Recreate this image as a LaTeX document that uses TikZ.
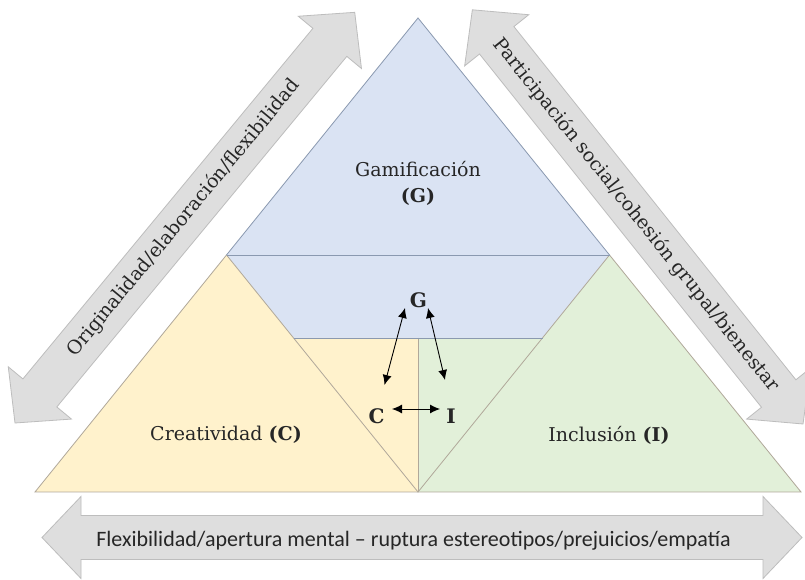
\documentclass[tikz,border=0pt]{standalone}
\usepackage{fontspec}
\setmainfont{DejaVu Serif}
\newfontfamily\calibfont{Carlito}
\usetikzlibrary{arrows.meta,calc}
\definecolor{gblue}{HTML}{DAE3F3}
\definecolor{gyellow}{HTML}{FFF2CC}
\definecolor{ggreen}{HTML}{E2F0D9}
\definecolor{edgecol}{HTML}{B0A89A}
\definecolor{bedgecol}{HTML}{8A99B0}
\definecolor{afill}{HTML}{DEDEDE}
\definecolor{aedge}{HTML}{BDBDBD}
\definecolor{txt}{HTML}{262626}
\newcommand\bigdarrow[1]{(0,0) -- (39,41) -- (39,22) -- (#1-39,22) -- (#1-39,41) -- (#1,0) -- (#1-39,-41) -- (#1-39,-22) -- (39,-22) -- (39,-41) -- cycle}
\tikzset{
  arrowbox/.style={fill=afill, draw=aedge, line width=0.8pt, line join=miter},
  edgeline/.style={draw=edgecol, line width=0.8pt},
  bline/.style={draw=bedgecol, line width=0.9pt},
  lbl/.style={text=txt, inner sep=0pt, font=\fontsize{19}{26}\selectfont, align=center},
  letter/.style={text=txt, inner sep=0pt, font=\fontsize{20}{24}\selectfont\bfseries},
  biarr/.style={{Latex[length=10pt,width=9pt]}-{Latex[length=10pt,width=9pt]}, line width=0.9pt, black}
}
\begin{document}
\begin{tikzpicture}[x=1pt,y=1pt]
\useasboundingbox[fill=white] (0,0) rectangle (805,580);
% big double arrows
\draw[arrowbox, shift={(15,157)}, rotate=50.4] \bigdarrow{533};
\draw[arrowbox, shift={(803,156)}, rotate=128.6] \bigdarrow{530};
\draw[arrowbox, shift={(42,42.5)}] \bigdarrow{760};
% triangle geometry
\coordinate (A) at (418,562);
\coordinate (B) at (35,88);
\coordinate (C) at (801,88);
\coordinate (AB) at (226.5,325);
\coordinate (AC) at (609.5,325);
\coordinate (BC) at (418,88);
\coordinate (L2) at (293.5,242);
\coordinate (R2) at (542.5,242);
\coordinate (M2) at (418,242);
\fill[gblue] (A) -- (AB) -- (L2) -- (R2) -- (AC) -- cycle;
\fill[gyellow] (AB) -- (B) -- (BC) -- (M2) -- (L2) -- cycle;
\fill[ggreen] (AC) -- (R2) -- (M2) -- (BC) -- (C) -- cycle;
\draw[edgeline] (AB) -- (B) -- (C) -- (AC);
\draw[edgeline] (AB) -- (BC) -- (AC);
\draw[edgeline] (M2) -- (BC);
\draw[bedgecol, line width=0.8pt] (AB) -- (A) -- (AC);
\draw[bline] (AB) -- (AC);
\draw[bline] (L2) -- (R2);
% labels
\node[lbl] (gam) at (418,397) {Gamificación\\\textbf{(G)}};
\node[lbl] (cre) at (226,145) {Creatividad \textbf{(C)}};
\node[lbl] (inc) at (609,145) {Inclusión \textbf{(I)}};
% center letters
\node[letter] (G) at (418.5,280) {G};
\node[letter] (Cl) at (376.5,164) {C};
\node[letter] (Il) at (451,164) {I};
\draw[biarr] ([shift={(-13.5,-8)}]G.center) -- ([shift={(8,31)}]Cl.center);
\draw[biarr] ([shift={(9.5,-8)}]G.center) -- ([shift={(-6,36)}]Il.center);
\draw[biarr] ([shift={(15.5,7)}]Cl.center) -- ([shift={(-11,7)}]Il.center);
% arrow texts
\node[text=txt, inner sep=0pt, rotate=50.4, font=\fontsize{19}{23}\selectfont] (t1) at (184,362) {Originalidad/elaboración/flexibilidad};
\node[text=txt, inner sep=0pt, rotate=-51.4, font=\fontsize{19}{23}\selectfont] (t2) at (636,365) {Participación social/cohesión grupal/bienestar};
\node[text=txt, inner sep=0pt, anchor=base, font=\calibfont\fontsize{22}{26}\selectfont] (t3) at (413.5,33) {Flexibilidad/apertura mental – ruptura estereotipos/prejuicios/empatía};
\end{tikzpicture}
\end{document}
